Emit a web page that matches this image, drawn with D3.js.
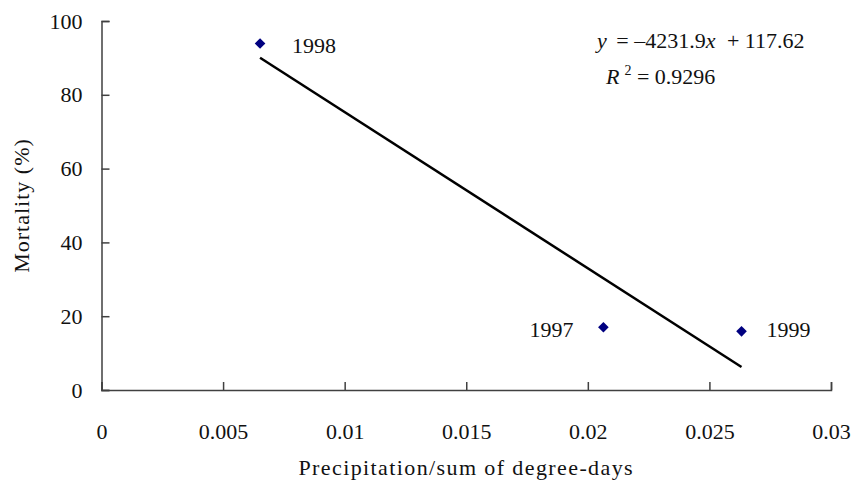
<!DOCTYPE html>
<html>
<head>
<meta charset="utf-8">
<script src="https://cdn.jsdelivr.net/npm/d3@7"></script>
<style>
  body { margin: 0; background: #fff; }
  svg text { font-family: "Liberation Serif", "Times New Roman", "DejaVu Serif", serif !important; fill: #111; }
</style>
</head>
<body>
<div id="chart"></div>
<script>
// data
const years = ['1998', '1997', '1999'];
const precipRatio = [0.00652, 0.02064, 0.02632];
const mortality = [93.9, 17.0, 15.9];
const xTicks = [0, 0.005, 0.01, 0.015, 0.02, 0.025, 0.03];
const yTicks = [0, 20, 40, 60, 80, 100];
const slope = -4231.9;
const intercept = 117.62;

const width = 854, height = 493;
const margin = { left: 101.5, right: 23, top: 21, bottom: 103 };
const fs = 22;

const svg = d3.select('#chart').append('svg')
  .attr('width', width)
  .attr('height', height);

const x = d3.scaleLinear().domain([0, 0.03]).range([margin.left, width - margin.right]);
const y = d3.scaleLinear().domain([0, 100]).range([height - margin.bottom, margin.top]);

// axes - ticks point inside the plot
const axisColor = '#404040';
const xAxis = svg.append('g')
  .attr('transform', `translate(0,${y(0)})`)
  .call(d3.axisTop(x).tickValues(xTicks).tickSize(8).tickFormat(d => String(d)));
xAxis.select('.domain').attr('stroke', axisColor).attr('stroke-width', 1.5);
xAxis.selectAll('.tick line').attr('stroke', axisColor).attr('stroke-width', 1.5);
xAxis.selectAll('.tick text')
  .attr('y', 48.5)
  .attr('font-size', fs)
  .attr('fill', '#111');

const yAxis = svg.append('g')
  .attr('transform', `translate(${x(0)},0)`)
  .call(d3.axisRight(y).tickValues(yTicks).tickSize(8));
yAxis.select('.domain').attr('stroke', axisColor).attr('stroke-width', 1.5);
yAxis.selectAll('.tick line').attr('stroke', axisColor).attr('stroke-width', 1.5);
yAxis.selectAll('.tick text')
  .attr('x', -19)
  .attr('text-anchor', 'end')
  .attr('font-size', fs)
  .attr('fill', '#111');

// axis titles
svg.append('text')
  .attr('x', (x(0) + x(0.03)) / 2)
  .attr('y', 475)
  .attr('text-anchor', 'middle')
  .attr('font-size', fs)
  .attr('letter-spacing', 1.4)
  .text('Precipitation/sum of degree-days');

svg.append('text')
  .attr('transform', `translate(29,${(y(0) + y(100)) / 2}) rotate(-90)`)
  .attr('text-anchor', 'middle')
  .attr('font-size', fs)
  .attr('letter-spacing', 1)
  .text('Mortality (%)');

// trend line over the data range
const xExt = d3.extent(precipRatio);
svg.append('line')
  .attr('x1', x(xExt[0]))
  .attr('y1', y(slope * xExt[0] + intercept))
  .attr('x2', x(xExt[1]))
  .attr('y2', y(slope * xExt[1] + intercept))
  .attr('stroke', '#000')
  .attr('stroke-width', 2.5);

// points
const pts = years.map((yr, i) => ({ yr, px: precipRatio[i], m: mortality[i] }));
svg.append('g').selectAll('path')
  .data(pts)
  .enter()
  .append('path')
  .attr('d', d3.symbol().type(d3.symbolDiamond2).size(72))
  .attr('transform', d => `translate(${x(d.px)},${y(d.m)})`)
  .attr('fill', '#000080');

// point labels
const labelDx = { '1998': 32, '1997': -30, '1999': 25 };
const labelDy = { '1998': 9, '1997': 10, '1999': 6 };
svg.append('g').selectAll('text')
  .data(pts)
  .enter()
  .append('text')
  .attr('x', d => x(d.px) + labelDx[d.yr])
  .attr('y', d => y(d.m) + labelDy[d.yr])
  .attr('text-anchor', d => labelDx[d.yr] < 0 ? 'end' : 'start')
  .attr('font-size', fs)
  .text(d => d.yr);

// regression equation
const eq = svg.append('text').attr('x', 597).attr('y', 48).attr('font-size', fs);
eq.append('tspan').attr('font-style', 'italic').text('y');
eq.append('tspan').attr('dx', 4).text(' = \u20134231.9');
eq.append('tspan').attr('font-style', 'italic').text('x');
eq.append('tspan').attr('dx', 6).text(' + 117.62');

const r2 = svg.append('text').attr('x', 606).attr('y', 84).attr('font-size', fs);
r2.append('tspan').attr('font-style', 'italic').text('R');
r2.append('tspan').attr('dx', 5).attr('dy', -9).attr('font-size', 14).text('2');
r2.append('tspan').attr('dy', 9).text(' = 0.9296');
</script>
</body>
</html>
